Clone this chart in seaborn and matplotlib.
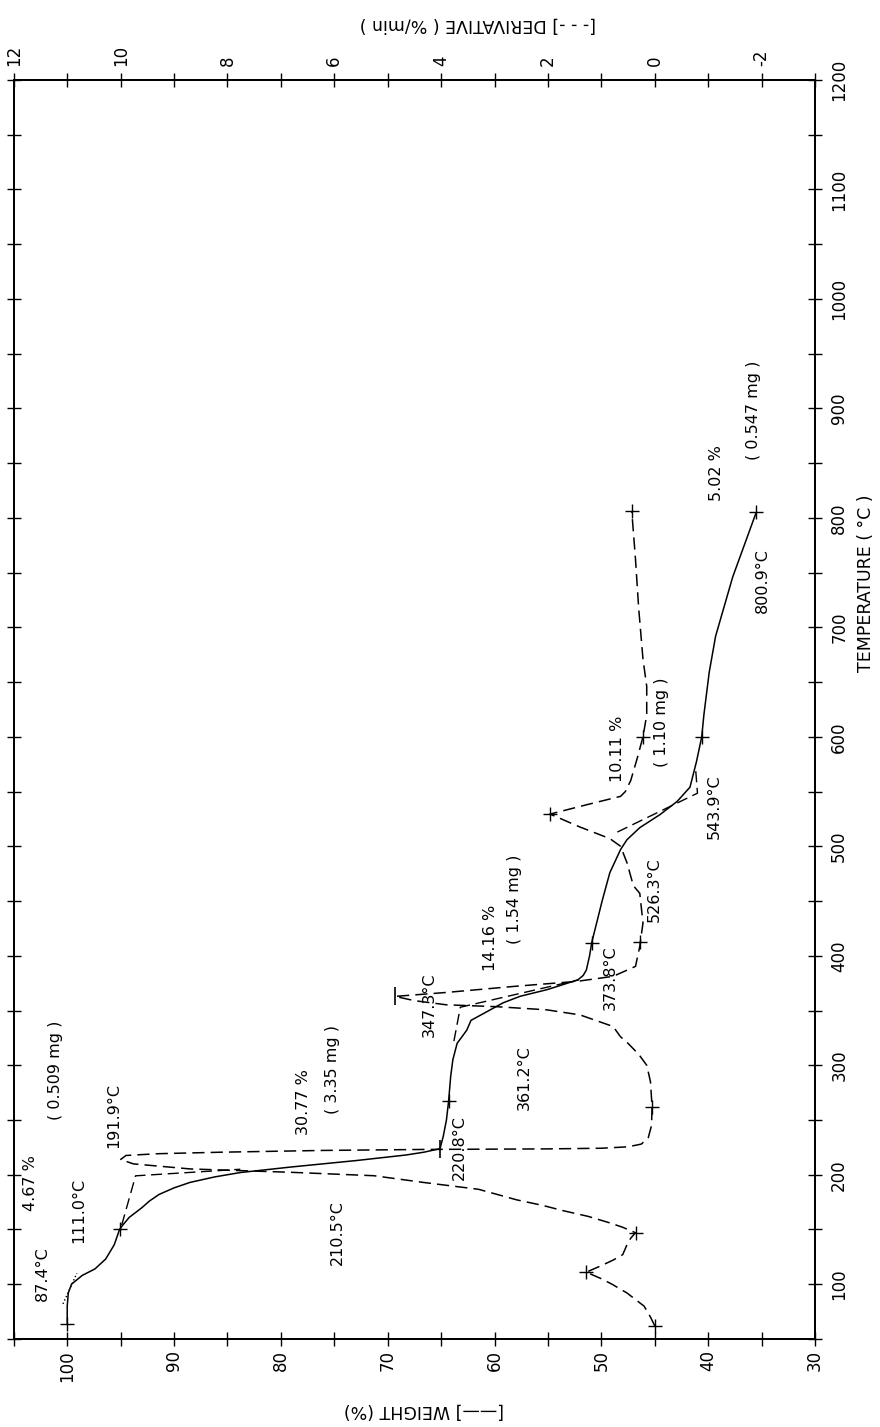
import matplotlib
matplotlib.use("Agg")
import matplotlib.pyplot as plt
import seaborn as sns
from matplotlib.ticker import MultipleLocator

# weight curve (solid) : temperature in C, weight in %
tga_temp = [64, 80, 92, 100, 108, 114, 123, 136, 150, 154, 161, 170, 176, 182,
            188, 193, 198, 202, 207, 213, 218, 220.6, 223.8, 235, 250, 267, 290,
            305, 320, 332, 341, 350.6, 357, 363, 369, 373, 378, 382, 387, 400,
            412, 451, 476, 497, 506, 517, 529, 541, 554, 577, 600, 620, 659, 692,
            746, 805]
tga_weight = [100.0, 100.0, 99.9, 99.6, 98.6, 97.4, 96.4, 95.6, 95.1, 94.8, 94.2,
              93.0, 92.3, 91.4, 90.0, 88.5, 86.2, 83.8, 79.1, 72.9, 68.3, 66.6,
              65.1, 64.8, 64.5, 64.3, 64.1, 63.9, 63.5, 62.6, 62.2, 60.4, 59.2,
              57.6, 55.1, 53.8, 52.2, 51.7, 51.4, 51.1, 50.9, 49.9, 49.2, 48.2,
              47.6, 46.4, 44.5, 42.9, 41.7, 41.1, 40.6, 40.4, 39.9, 39.3, 37.7,
              35.5]

# derivative curve (dashed) : temperature in C, rate in %/min
dtg_temp = [62, 70, 80, 92, 100, 105, 111, 117, 122, 127, 136, 142, 147, 152,
            156, 162, 167, 172, 177, 182, 186.7, 192.9, 199.1, 202.2, 205.3,
            209.9, 213.9, 217.6, 219.2, 220.6, 222.2, 223.1, 223.6, 224.2, 225.5,
            228, 234, 245, 262, 285, 300, 310, 320, 326, 335.4, 346, 350.6, 353.5,
            355.2, 359, 362.9, 366.5, 372, 376.6, 381.2, 390.3, 408.6, 430, 457,
            464, 485, 500, 507, 517.6, 529.4, 538, 545.6, 550, 560, 580, 600, 620,
            646, 671, 717, 762, 806]
dtg_rate = [0.0, 0.08, 0.2, 0.52, 0.8, 1.0, 1.28, 1.0, 0.78, 0.6, 0.52, 0.45,
            0.36, 0.6, 0.84, 1.25, 1.7, 2.1, 2.58, 2.95, 3.3, 4.32, 5.26, 6.8,
            8.7, 9.76, 10.0, 9.9, 9.3, 8.1, 6.2, 4.3, 2.0, 1.0, 0.5, 0.25, 0.12,
            0.06, 0.05, 0.08, 0.15, 0.3, 0.5, 0.64, 0.78, 1.4, 2.02, 2.96, 3.9,
            4.5, 4.86, 3.9, 2.64, 1.46, 0.78, 0.36, 0.28, 0.22, 0.28, 0.4, 0.52,
            0.64, 0.84, 1.4, 1.96, 1.27, 0.64, 0.55, 0.45, 0.33, 0.22, 0.15, 0.15,
            0.22, 0.3, 0.36, 0.43]

# instrument marks on the curves
tga_mark_temp = [64, 150, 267, 412, 600, 805]
tga_mark_weight = [100.0, 95.1, 64.3, 50.9, 40.6, 35.5]
tga_end_temp = [223.8]
tga_end_weight = [65.1]
dtg_mark_temp = [62, 111, 147, 262, 413, 529.4, 600, 806]
dtg_mark_rate = [0.0, 1.28, 0.36, 0.05, 0.28, 1.96, 0.22, 0.43]
dtg_peak_temp = [362.9]
dtg_peak_rate = [4.86]

# onset tangent constructions (weight %, temperature C)
tangent_weight = [[94.9, 93.6, 83.8], [63.8, 63.2, 52.1], [48.5, 41.0, 41.2]]
tangent_temp = [[154, 199, 205], [322, 353, 378], [513, 548.5, 574]]
dotted_weight = [100.4, 99.1]
dotted_temp = [82, 110]

# printed results
notes = [
    ("87.4°C", 102.3, 110), ("4.67 %", 103.4, 192), ("111.0°C", 98.9, 167),
    ("( 0.509 mg )", 101.1, 295), ("191.9°C", 95.6, 254), ("30.77 %", 77.9, 266),
    ("( 3.35 mg )", 75.2, 296), ("210.5°C", 74.7, 147), ("220.8°C", 63.3, 225),
    ("361.2°C", 57.2, 289), ("347.3°C", 66.1, 355), ("14.16 %", 60.4, 416),
    ("( 1.54 mg )", 58.1, 452), ("373.8°C", 49.2, 380), ("526.3°C", 45.0, 460),
    ("543.9°C", 39.4, 536), ("10.11 %", 48.5, 589), ("( 1.10 mg )", 44.4, 613),
    ("800.9°C", 34.9, 743), ("5.02 %", 39.2, 841), ("( 0.547 mg )", 35.8, 898),
]

sns.set_style("white")
plt.rcParams["font.family"] = ["DejaVu Sans"]
plt.rcParams["axes.linewidth"] = 1.3
plt.rcParams["axes.edgecolor"] = "black"
plt.rcParams["text.color"] = "black"
plt.rcParams["xtick.color"] = "black"
plt.rcParams["ytick.color"] = "black"
plt.rcParams["axes.unicode_minus"] = False

fig = plt.figure(figsize=(8.8, 14.27), dpi=100)
ax = fig.add_axes([0.0157, 0.0617, 0.9104, 0.8823])
ax2 = ax.twiny()

dash = (0, (8, 4))

sns.lineplot(x=tga_weight, y=tga_temp, sort=False, estimator=None,
             color="black", linewidth=1.1, ax=ax)
sns.lineplot(x=dtg_rate, y=dtg_temp, sort=False, estimator=None,
             color="black", linewidth=1.1, linestyle=dash, ax=ax2)

for w, t in zip(tangent_weight, tangent_temp):
    ax.plot(w, t, color="black", linewidth=1.0, linestyle=dash)
ax.plot(dotted_weight, dotted_temp, color="black", linewidth=1.0, linestyle=":")

sns.scatterplot(x=tga_mark_weight, y=tga_mark_temp, marker="+", s=110,
                color="black", linewidth=1.0, ax=ax)
sns.scatterplot(x=tga_end_weight, y=tga_end_temp, marker="|", s=150,
                color="black", linewidth=1.2, ax=ax)
sns.scatterplot(x=dtg_mark_rate, y=dtg_mark_temp, marker="+", s=110,
                color="black", linewidth=1.0, ax=ax2)
sns.scatterplot(x=dtg_peak_rate, y=dtg_peak_temp, marker="|", s=150,
                color="black", linewidth=1.2, ax=ax2)

for txt, w, t in notes:
    ax.text(w, t, txt, rotation=90, ha="center", va="center", fontsize=11.5)

ax.set_xlim(105, 30)
ax.set_ylim(50, 1200)
ax2.set_xlim(12, -3)

ax.xaxis.set_major_locator(MultipleLocator(10))
ax.xaxis.set_minor_locator(MultipleLocator(5))
ax.yaxis.set_major_locator(MultipleLocator(100))
ax.yaxis.set_minor_locator(MultipleLocator(50))
ax2.xaxis.set_major_locator(MultipleLocator(2))
ax2.xaxis.set_minor_locator(MultipleLocator(1))

ax.tick_params(axis="x", which="both", direction="inout", length=10, width=1,
               bottom=True, top=False, labelsize=12, pad=3, labelrotation=90)
ax.tick_params(axis="y", which="both", direction="inout", length=10, width=1,
               left=True, right=True, labelleft=False, labelright=True,
               labelsize=12, pad=6, labelrotation=90)
ax2.tick_params(axis="x", which="both", direction="inout", length=10, width=1,
                top=True, bottom=False, labelsize=12, pad=5, labelrotation=90)
for lab in ax.get_yticklabels():
    lab.set_va("center")

ax.set_xlabel("")
ax.set_ylabel("")
ax2.set_xlabel("")

fig.text(866 / 880, 1 - 583 / 1427, "TEMPERATURE ( °C )", rotation=90,
         ha="center", va="center", fontsize=12.5)
fig.text(424 / 880, 1 - 1410 / 1427, "[——] WEIGHT (%)", rotation=180,
         ha="center", va="center", fontsize=12.5)
fig.text(478 / 880, 1 - 24 / 1427, "[- - -] DERIVATIVE ( %/min )", rotation=180,
         ha="center", va="center", fontsize=12.5)

fig.savefig("out.png", dpi=100)
